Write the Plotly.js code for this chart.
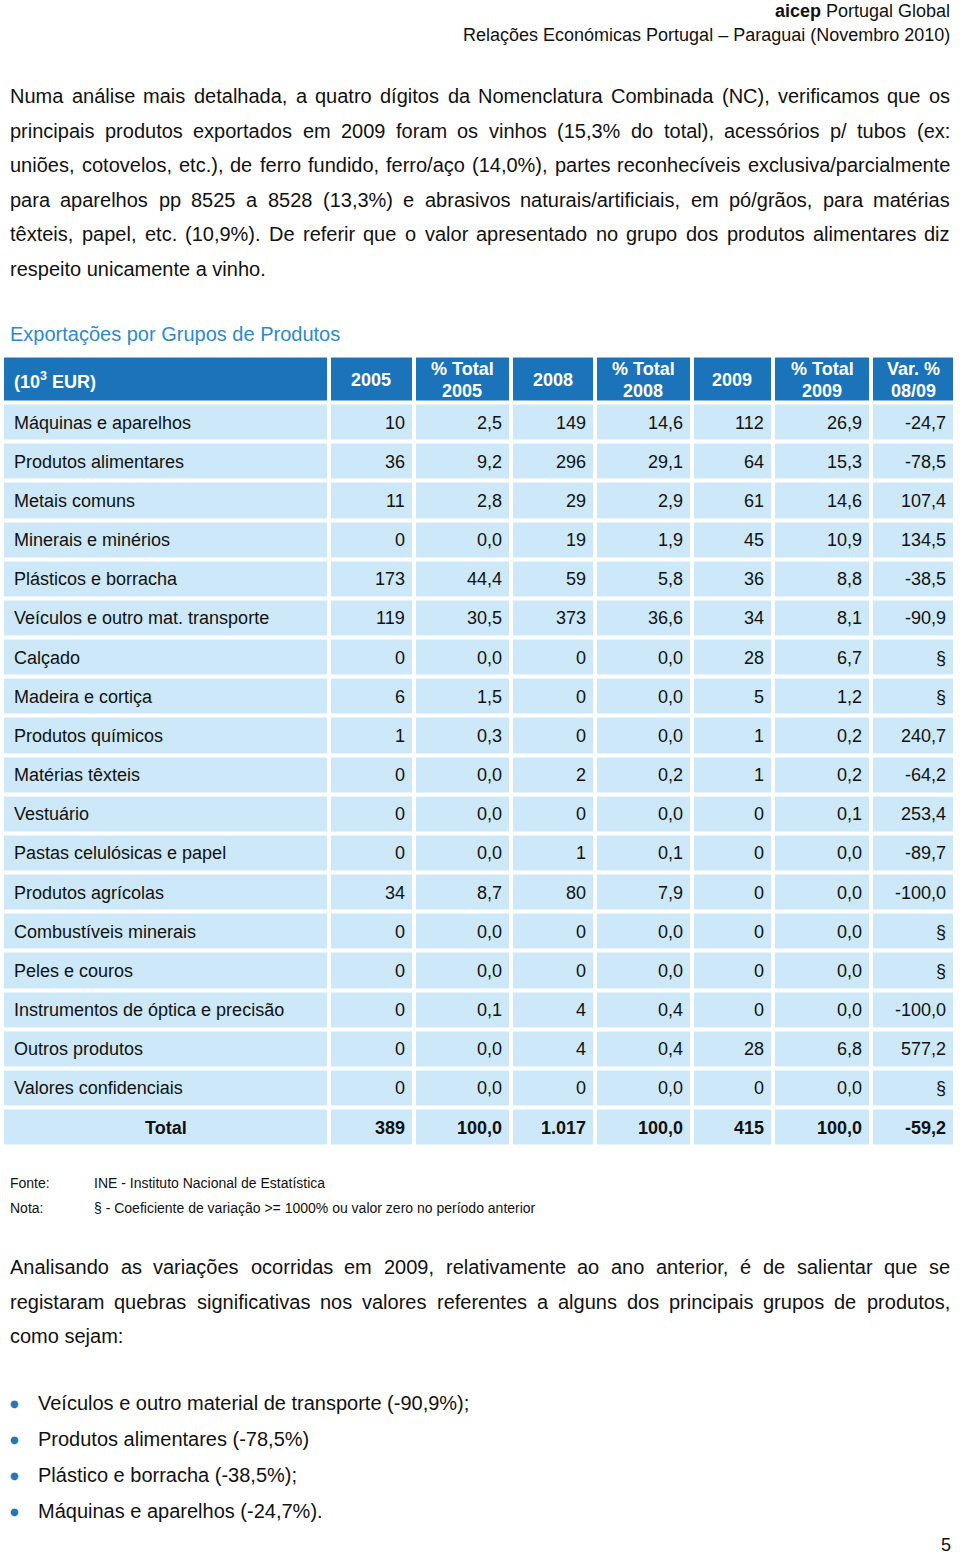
<!DOCTYPE html>
<html><head><meta charset="utf-8">
<script src="https://cdn.plot.ly/plotly-3.0.1.min.js"></script>
<style>html,body{margin:0;padding:0;background:#fff}#chart{width:960px;height:1555px}</style>
</head><body><div id="chart"></div>
<script>
// ---------------- data ----------------
const categories = ['Máquinas e aparelhos','Produtos alimentares','Metais comuns','Minerais e minérios','Plásticos e borracha','Veículos e outro mat. transporte','Calçado','Madeira e cortiça','Produtos químicos','Matérias têxteis','Vestuário','Pastas celulósicas e papel','Produtos agrícolas','Combustíveis minerais','Peles e couros','Instrumentos de óptica e precisão','Outros produtos','Valores confidenciais'];
const exp2005 = [10,36,11,0,173,119,0,6,1,0,0,0,34,0,0,0,0,0];
const share2005 = [2.5,9.2,2.8,0.0,44.4,30.5,0.0,1.5,0.3,0.0,0.0,0.0,8.7,0.0,0.0,0.1,0.0,0.0];
const exp2008 = [149,296,29,19,59,373,0,0,0,2,0,1,80,0,0,4,4,0];
const share2008 = [14.6,29.1,2.9,1.9,5.8,36.6,0.0,0.0,0.0,0.2,0.0,0.1,7.9,0.0,0.0,0.4,0.4,0.0];
const exp2009 = [112,64,61,45,36,34,28,5,1,1,0,0,0,0,0,0,28,0];
const share2009 = [26.9,15.3,14.6,10.9,8.8,8.1,6.7,1.2,0.2,0.2,0.1,0.0,0.0,0.0,0.0,0.0,6.8,0.0];
const var0809 = [-24.7,-78.5,107.4,134.5,-38.5,-90.9,null,null,240.7,-64.2,253.4,-89.7,-100.0,null,null,-100.0,577.2,null];
const totalLabel = 'Total';
const totals = [389,100.0,1017,100.0,415,100.0,-59.2];
const headerLabels = ['(10<sup>3</sup> EUR)','2005','% Total<br>2005','2008','% Total<br>2008','2009','% Total<br>2009','Var. %<br>08/09'];

const docHeader1 = '<b>aicep</b> Portugal Global';
const docHeader2 = 'Relações Económicas Portugal – Paraguai (Novembro 2010)';
const para1 = [
 'Numa análise mais detalhada, a quatro dígitos da Nomenclatura Combinada (NC), verificamos que os',
 'principais produtos exportados em 2009 foram os vinhos (15,3% do total), acessórios p/ tubos (ex:',
 'uniões, cotovelos, etc.), de ferro fundido, ferro/aço (14,0%), partes reconhecíveis exclusiva/parcialmente',
 'para aparelhos pp 8525 a 8528 (13,3%) e abrasivos naturais/artificiais, em pó/grãos, para matérias',
 'têxteis, papel, etc. (10,9%). De referir que o valor apresentado no grupo dos produtos alimentares diz',
 'respeito unicamente a vinho.'];
const tableTitle = 'Exportações por Grupos de Produtos';
const notes = [['Fonte:','INE - Instituto Nacional de Estatística'],['Nota:','§ - Coeficiente de variação >= 1000% ou valor zero no período anterior']];
const para2 = [
 'Analisando as variações ocorridas em 2009, relativamente ao ano anterior, é de salientar que se',
 'registaram quebras significativas nos valores referentes a alguns dos principais grupos de produtos,',
 'como sejam:'];
const bullets = ['Veículos e outro material de transporte (-90,9%);','Produtos alimentares (-78,5%)','Plástico e borracha (-38,5%);','Máquinas e aparelhos (-24,7%).'];
const pageNumber = '5';

// ---------------- layout constants ----------------
const FONT = '"Liberation Sans", Arial, sans-serif';
const TXT = '#111111';
const HEAD_BLUE = '#1b74ba';
const CELL_BLUE = '#cde9f9';
const TITLE_BLUE = '#2b8bcd';
const BULLET_BLUE = '#2577b5';
const colWidths = [327,84.5,97,84.5,96.5,81.5,98,84];
const tableLeft = 2, tableTop = 355.5, headerH = 47, rowH = 39.17;

const intFmt = v => String(v).replace(/\B(?=(\d{3})+(?!\d))/g,'.');
const pctFmt = v => v == null ? '§' : v.toFixed(1).replace('.', ',');
const colFmt = [intFmt,pctFmt,intFmt,pctFmt,intFmt,pctFmt,pctFmt];
const columns = [exp2005,share2005,exp2008,share2008,exp2009,share2009,var0809];

const xEdges = [tableLeft];
colWidths.forEach(w => xEdges.push(xEdges[xEdges.length-1] + w));
const nRows = categories.length + 1; // + total
const yEdges = [tableTop, tableTop + headerH];
for (let i = 0; i < nRows; i++) yEdges.push(yEdges[yEdges.length-1] + rowH);
const z = [];
for (let r = 0; r < nRows + 1; r++) z.push(colWidths.map(() => r === 0 ? 1 : 0));

const anns = [];
function ann(text, x, y, xanchor, size, color, family) {
  anns.push({text: text, x: x, y: y, xref: 'x', yref: 'y', showarrow: false,
    xanchor: xanchor, yanchor: 'middle', borderpad: 0, borderwidth: 0,
    font: {family: family || FONT, size: size, color: color || TXT}});
}
const ctx = document.createElement('canvas').getContext('2d');
function measure(t, size) { ctx.font = size + 'px "Liberation Sans"'; return ctx.measureText(t).width; }
function justify(line, y, x0, x1, size) {
  const words = line.split(' ');
  const widths = words.map(w => measure(w, size));
  const total = widths.reduce((a, b) => a + b, 0);
  const gap = (x1 - x0 - total) / (words.length - 1);
  let x = x0;
  words.forEach((w, i) => { ann(w, x, y, 'left', size); x += widths[i] + gap; });
}

// document header
ann(docHeader1, 950, 10.5, 'right', 18);
ann(docHeader2, 950, 35, 'right', 18);
// paragraph 1
const p1y = [96, 130.5, 165, 199.5, 234, 268.5];
para1.forEach((l, i) => { if (i < para1.length - 1) justify(l, p1y[i], 10, 950, 20); else ann(l, 10, p1y[i], 'left', 20); });
// table title
ann(tableTitle, 10, 334, 'left', 20, TITLE_BLUE);
// header labels
const hc = (yEdges[0] + yEdges[1]) / 2;
headerLabels.forEach((h, c) => {
  const parts = h.split('<br>');
  const xc = c === 0 ? xEdges[0] + 12 : (xEdges[c] + xEdges[c+1]) / 2;
  const xa = c === 0 ? 'left' : 'center';
  if (parts.length === 1) ann('<b>' + h + '</b>', xc, hc + 1, xa, 18, '#ffffff');
  else parts.forEach((p, k) => ann('<b>' + p + '</b>', xc, hc - 10 + k * 22, xa, 18, '#ffffff'));
});
// body
categories.forEach((cat, r) => {
  const yc = (yEdges[r+1] + yEdges[r+2]) / 2 + 0.5;
  ann(cat, xEdges[0] + 12, yc, 'left', 18);
  columns.forEach((col, c) => ann(colFmt[c](col[r]), xEdges[c+2] - 9, yc, 'right', 18));
});
{
  const r = categories.length;
  const yc = (yEdges[r+1] + yEdges[r+2]) / 2 + 0.5;
  ann('<b>' + totalLabel + '</b>', (xEdges[0] + xEdges[1]) / 2, yc, 'center', 18);
  totals.forEach((v, c) => ann('<b>' + colFmt[c](v) + '</b>', xEdges[c+2] - 9, yc, 'right', 18));
}
// notes
notes.forEach((n, i) => { ann(n[0], 10, 1183 + i * 25, 'left', 14); ann(n[1], 94, 1183 + i * 25, 'left', 14); });
// paragraph 2
const p2y = [1267, 1301.5, 1336];
para2.forEach((l, i) => { if (i < para2.length - 1) justify(l, p2y[i], 10, 950, 20); else ann(l, 10, p2y[i], 'left', 20); });
// bullets
bullets.forEach((b, i) => {
  const y = 1403 + i * 36;
  ann('●', 14.5, y, 'center', 10, BULLET_BLUE, '"DejaVu Sans", sans-serif');
  ann(b, 38, y, 'left', 20);
});
ann(pageNumber, 946, 1545, 'center', 18);

const trace = {
  type: 'heatmap', x: xEdges, y: yEdges, z: z, zmin: 0, zmax: 1,
  colorscale: [[0, CELL_BLUE], [1, HEAD_BLUE]], showscale: false,
  xgap: 4, ygap: 4, hoverinfo: 'skip'
};
const layout = {
  width: 960, height: 1555, margin: {l: 0, r: 0, t: 0, b: 0},
  paper_bgcolor: '#ffffff', plot_bgcolor: '#ffffff',
  xaxis: {range: [0, 960], visible: false, fixedrange: true},
  yaxis: {range: [1555, 0], visible: false, fixedrange: true},
  annotations: anns, showlegend: false
};
Plotly.newPlot('chart', [trace], layout, {staticPlot: true, displayModeBar: false});
</script></body></html>
